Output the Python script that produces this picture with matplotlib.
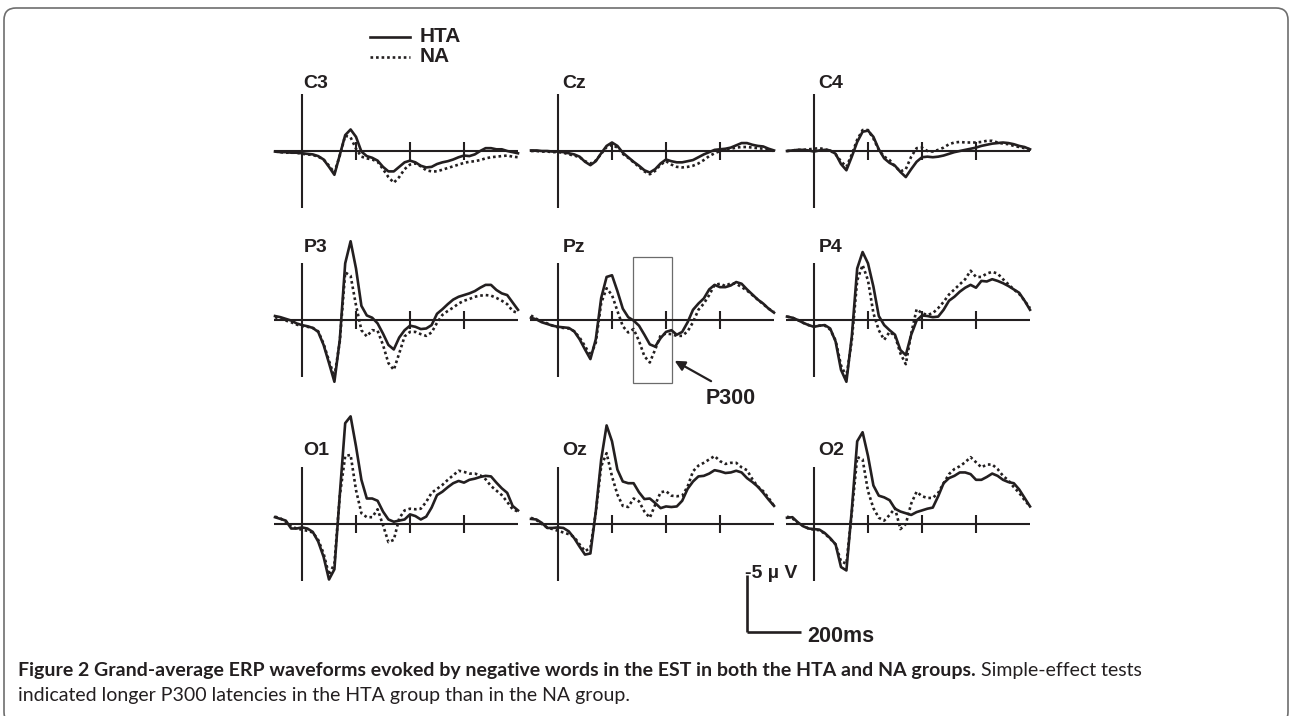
import matplotlib.pyplot as plt
from matplotlib.patches import Rectangle, FancyBboxPatch
from matplotlib.transforms import IdentityTransform

# sample times in ms, shared by every waveform
times = [-100, -80, -60, -40, -20, 0, 20, 40, 60, 80,
         100, 120, 140, 160, 180, 200, 220, 240, 260, 280,
         300, 320, 340, 360, 380, 400, 420, 440, 460, 480,
         500, 520, 540, 560, 580, 600, 620, 640, 660, 680,
         700, 720, 740, 760, 780, 800]

# amplitudes in microvolts (negative is plotted upward)
c3_hta = [0.05, 0.1, 0.1, 0.15, 0.15, 0.2, 0.25, 0.3, 0.45, 0.75,
          1.4, 2.1, 0.35, -1.4, -1.9, -1.25, 0.05, 0.45, 0.6, 0.85,
          1.4, 1.8, 1.8, 1.4, 1.0, 0.85, 1.0, 1.3, 1.45, 1.4,
          1.15, 1.0, 0.9, 0.75, 0.55, 0.4, 0.45, 0.3, 0.0, -0.25,
          -0.25, -0.15, -0.15, 0.0, 0.1, 0.2]
c3_na = [0.05, 0.1, 0.15, 0.15, 0.15, 0.25, 0.3, 0.35, 0.5, 0.75,
         1.3, 1.9, 0.4, -1.35, -1.2, -0.2, 0.5, 0.65, 0.75, 0.95,
         1.6, 2.3, 2.8, 2.3, 1.6, 1.2, 1.1, 1.35, 1.7, 1.8,
         1.8, 1.65, 1.5, 1.35, 1.2, 1.05, 0.95, 0.9, 0.8, 0.65,
         0.55, 0.5, 0.45, 0.4, 0.5, 0.55]
cz_hta = [-0.05, -0.05, 0, 0, 0.05, 0.05, 0.1, 0.2, 0.3, 0.5,
          0.95, 1.25, 0.9, 0.2, -0.45, -0.75, -0.45, 0.15, 0.55, 0.95,
          1.3, 1.7, 1.9, 1.6, 1.1, 0.75, 0.9, 1.0, 1.0, 0.9,
          0.8, 0.55, 0.3, 0.1, -0.1, -0.15, -0.2, -0.3, -0.5, -0.7,
          -0.7, -0.55, -0.45, -0.4, -0.2, -0.05]
cz_na = [0, 0, 0.05, 0.05, 0.1, 0.1, 0.15, 0.3, 0.4, 0.55,
         0.9, 1.1, 0.85, 0.25, -0.35, -0.55, -0.3, 0.25, 0.6, 1.0,
         1.4, 1.8, 2.05, 1.75, 1.2, 0.9, 1.2, 1.4, 1.45, 1.4,
         1.3, 1.1, 0.8, 0.45, 0.2, 0.0, -0.15, -0.2, -0.3, -0.35,
         -0.35, -0.3, -0.25, -0.2, -0.1, 0.0]
c4_hta = [0, -0.05, -0.1, -0.1, -0.05, 0.05, -0.05, -0.1, -0.05, 0.25,
          1.15, 1.7, 0.5, -0.8, -1.7, -1.8, -1.25, -0.15, 0.65, 1.05,
          1.3, 1.85, 2.3, 1.6, 0.95, 0.55, 0.5, 0.55, 0.5, 0.4,
          0.25, 0.1, 0, -0.1, -0.2, -0.3, -0.45, -0.55, -0.65, -0.7,
          -0.75, -0.7, -0.6, -0.45, -0.35, -0.15]
c4_na = [0, -0.05, -0.1, -0.1, -0.15, -0.2, -0.25, -0.15, -0.05, 0.3,
         0.9, 1.4, 0.3, -1.0, -1.85, -1.85, -1.1, -0.1, 0.5, 0.8,
         1.35, 1.8, 1.6, 0.5, -0.25, -0.3, 0.0, 0.05, -0.1, -0.3,
         -0.6, -0.75, -0.8, -0.75, -0.75, -0.75, -0.8, -0.9, -0.9, -0.75,
         -0.65, -0.6, -0.45, -0.35, -0.25, -0.15]
p3_hta = [-0.35, -0.25, -0.1, 0.05, 0.3, 0.45, 0.55, 0.7, 1.05, 2.2,
          3.8, 5.45, 1.75, -5.0, -6.95, -4.55, -1.25, -0.4, -0.2, 0.3,
          1.2, 2.2, 2.6, 1.55, 0.9, 0.5, 0.6, 0.8, 0.75, 0.45,
          -0.55, -0.95, -1.4, -1.8, -2.05, -2.2, -2.35, -2.55, -2.85, -3.1,
          -3.1, -2.65, -2.35, -2.2, -1.55, -0.9]
p3_na = [-0.25, -0.1, 0.05, 0.2, 0.4, 0.55, 0.6, 0.7, 1.0, 2.1,
         3.6, 5.0, 1.9, -4.2, -3.9, -1.3, 0.9, 1.45, 0.9, 0.95,
         2.2, 3.8, 4.4, 2.95, 1.45, 1.05, 1.05, 1.25, 1.4, 1.1,
         0.25, -0.45, -0.8, -1.1, -1.45, -1.7, -1.85, -2.05, -2.15, -2.2,
         -2.15, -1.95, -1.7, -1.4, -0.8, -0.6]
pz_hta = [-0.2, -0.05, 0.2, 0.35, 0.5, 0.6, 0.65, 0.7, 1.0, 1.7,
          2.6, 3.45, 1.7, -1.95, -3.8, -3.95, -2.55, -1.0, -0.25, 0.05,
          0.5, 1.3, 2.15, 2.35, 1.6, 1.05, 0.9, 1.3, 1.05, 0.2,
          -0.9, -1.45, -1.9, -2.7, -3.1, -2.9, -2.9, -3.05, -3.35, -3.2,
          -2.7, -2.25, -1.8, -1.45, -1.0, -0.65]
pz_na = [-0.4, -0.1, 0.1, 0.3, 0.5, 0.65, 0.7, 0.75, 1.0, 1.55,
         2.3, 3.15, 2.0, -1.5, -2.8, -2.2, -0.8, 0.55, 1.1, 0.8,
         1.85, 3.2, 3.75, 2.6, 1.35, 1.2, 1.25, 1.4, 1.4, 1.0,
         0.2, -0.9, -1.45, -2.2, -3.1, -3.2, -3.0, -3.25, -3.2, -2.9,
         -2.6, -2.2, -1.8, -1.4, -1.0, -0.7]
p4_hta = [-0.3, -0.2, 0, 0.25, 0.45, 0.6, 0.5, 0.45, 0.75, 1.9,
          4.4, 5.45, 1.45, -4.55, -6.0, -5.0, -2.95, -0.35, 0.45, 0.9,
          1.3, 2.65, 3.1, 1.3, 0.05, -0.4, -0.35, -0.25, -0.3, -0.9,
          -1.7, -2.05, -2.5, -2.85, -3.1, -2.85, -3.45, -3.4, -3.6, -3.45,
          -3.25, -3.0, -2.7, -2.4, -1.7, -0.9]
p4_na = [-0.3, -0.2, 0, 0.25, 0.45, 0.55, 0.5, 0.5, 0.85, 1.8,
         4.0, 5.0, 1.8, -3.5, -4.85, -3.5, -0.6, 0.9, 1.75, 1.05,
         1.4, 2.95, 3.9, 1.2, -0.95, -0.6, -0.45, -0.6, -1.05, -1.6,
         -2.25, -2.7, -3.15, -3.6, -4.35, -3.8, -3.8, -4.1, -4.25, -4.1,
         -3.6, -3.15, -2.7, -2.3, -1.7, -1.05]
o1_hta = [-0.6, -0.45, -0.3, 0.4, 0.4, 0.3, 0.4, 0.7, 1.55, 2.9,
          4.9, 4.0, -2.6, -8.9, -9.5, -6.85, -3.9, -2.25, -2.25, -2.05,
          -1.1, -0.4, -0.2, -0.3, -0.4, -0.85, -0.7, -0.4, -0.65, -1.45,
          -2.55, -2.85, -3.25, -3.6, -3.8, -3.65, -3.9, -4.0, -4.15, -4.25,
          -4.2, -3.65, -3.15, -2.75, -1.6, -1.2]
o1_na = [-0.65, -0.5, -0.2, 0.2, 0.4, 0.5, 0.6, 0.75, 1.4, 2.6,
         4.5, 3.5, -2.5, -6.0, -6.1, -3.0, -0.95, -0.6, -0.6, -1.3,
         0.1, 1.6, 1.4, -0.5, -1.2, -1.35, -1.3, -1.35, -1.95, -2.75,
         -3.1, -3.45, -3.9, -4.3, -4.7, -4.6, -4.45, -4.45, -4.3, -3.95,
         -3.35, -2.95, -2.55, -1.95, -1.3, -1.1]
oz_hta = [-0.45, -0.4, -0.1, 0.35, 0.35, 0.3, 0.35, 0.65, 1.25, 2.0,
          2.7, 2.6, -1.1, -5.7, -8.7, -7.3, -4.8, -3.75, -3.6, -3.6,
          -2.8, -2.2, -2.25, -1.85, -1.4, -1.55, -1.5, -1.55, -2.05, -3.1,
          -3.75, -4.2, -4.25, -4.45, -4.75, -4.65, -4.5, -4.55, -4.7, -4.55,
          -4.05, -3.7, -3.3, -2.75, -2.15, -1.6]
oz_na = [-0.55, -0.35, 0.0, 0.3, 0.45, 0.6, 0.75, 0.9, 1.15, 1.8,
         2.4, 2.1, -1.0, -5.1, -6.25, -4.2, -2.6, -1.6, -1.5, -2.25,
         -2.0, -1.1, -0.55, -1.7, -2.8, -2.9, -2.5, -2.45, -2.5, -3.3,
         -4.65, -5.15, -5.4, -5.7, -6.0, -5.55, -5.3, -5.4, -5.4, -5.0,
         -4.75, -3.95, -3.3, -2.9, -2.3, -1.6]
o2_hta = [-0.55, -0.6, -0.15, 0.2, 0.4, 0.45, 0.5, 0.8, 1.25, 1.8,
          3.8, 4.1, -1.25, -7.3, -8.1, -6.0, -3.4, -2.5, -2.35, -2.1,
          -1.35, -1.1, -0.95, -0.8, -1.05, -1.2, -1.35, -1.45, -2.45, -3.6,
          -4.05, -4.25, -4.55, -4.55, -4.4, -3.9, -3.9, -4.15, -4.45, -4.25,
          -3.9, -3.7, -3.6, -3.05, -2.3, -1.55]
o2_na = [-0.65, -0.5, -0.1, 0.15, 0.4, 0.5, 0.55, 0.85, 1.3, 1.8,
         3.3, 3.5, -1.0, -5.9, -5.7, -2.9, -1.4, -0.55, -0.3, -0.8,
         -1.4, 0.45, 0.0, -1.8, -2.85, -2.45, -2.3, -2.3, -2.75, -3.6,
         -4.4, -4.85, -5.1, -5.45, -5.9, -5.45, -5.0, -5.25, -5.25, -4.85,
         -4.25, -3.85, -3.25, -2.75, -2.1, -1.55]

electrodes = ['C3', 'Cz', 'C4', 'P3', 'Pz', 'P4', 'O1', 'Oz', 'O2']
hta_waves = [c3_hta, cz_hta, c4_hta, p3_hta, pz_hta, p4_hta, o1_hta, oz_hta, o2_hta]
na_waves = [c3_na, cz_na, c4_na, p3_na, pz_na, p4_na, o1_na, oz_na, o2_na]
tick_ms = [200, 400, 600]
groups = ['HTA', 'NA']

W, H = 1292, 716
INK = '#231f20'
LABEL_FONT = 'Liberation Sans'
PX_MS = 54 / 200      # pixels per ms
PX_UV = 11.33         # pixels per microvolt
XLIM = (-120, 820)
YTOP, YBOT = -10.5, 6.0
DOTS = (0, (1, 1.1))

fig = plt.figure(figsize=(W / 100, H / 100), dpi=100)


def fx(px):
    return px / W


def fy(py):
    return 1 - py / H


def panel_axes(x0, yb):
    # axes whose data origin (0 ms, 0 uV) sits at pixel (x0, yb)
    left = x0 + XLIM[0] * PX_MS
    width = (XLIM[1] - XLIM[0]) * PX_MS
    top = yb + YTOP * PX_UV
    bottom = yb + YBOT * PX_UV
    ax = fig.add_axes([fx(left), fy(bottom), width / W, (bottom - top) / H])
    ax.set_xlim(*XLIM)
    ax.set_ylim(YBOT, YTOP)
    ax.axis('off')
    ax.patch.set_alpha(0)
    return ax


col_x = [302, 558, 814]
row_y = [151, 320, 524]
label_dy = [-5.6, -6.0, -6.1]

axes = []
for i, name in enumerate(electrodes):
    r, c = divmod(i, 3)
    ax = panel_axes(col_x[c], row_y[r])
    axes.append(ax)
    kw = dict(color=INK, lw=1.5, solid_capstyle='butt', clip_on=False)
    ax.plot([-105, 800], [0, 0], **kw)
    ax.plot([0, 0], [-5, 5], **kw)
    for t in tick_ms:
        ax.plot([t, t], [-0.8, 0.8], **kw)
    ax.plot(times, na_waves[i], color=INK, lw=1.9, linestyle=DOTS,
            dash_capstyle='butt', clip_on=False)
    ax.plot(times, hta_waves[i], color=INK, lw=1.9, clip_on=False)
    ax.text(6 if c == 0 else 16, label_dy[r], name, fontsize=14, fontweight='bold',
            family=LABEL_FONT, color=INK, ha='left', va='baseline')

# P300 window on Pz
pz = axes[4]
pz.add_patch(Rectangle((278, -5.56), 144, 11.12, fill=False, edgecolor='#6b6b6b',
                       lw=0.9, clip_on=False))
pz.annotate('', xy=(432, 3.6), xytext=(567, 5.4),
            arrowprops=dict(arrowstyle='-|>', color=INK, lw=1.6, mutation_scale=15,
                            shrinkA=0, shrinkB=0))
pz.text(641, 6.9, 'P300', fontsize=15.5, fontweight='bold', family=LABEL_FONT,
        color=INK, ha='center', va='center')

# legend
fig.add_artist(plt.Line2D([fx(370), fx(410)], [fy(37), fy(37)], color=INK, lw=1.9))
fig.add_artist(plt.Line2D([fx(370), fx(410)], [fy(57), fy(57)], color=INK, lw=1.9,
                          linestyle=DOTS))
fig.text(fx(420), fy(37), groups[0], fontsize=15, fontweight='bold', family=LABEL_FONT,
         color=INK, va='center')
fig.text(fx(420), fy(57), groups[1], fontsize=15, fontweight='bold', family=LABEL_FONT,
         color=INK, va='center')

# scale bar: 5 uV (negative up) and 200 ms
sb = panel_axes(747, 632)
sb.plot([0, 0], [0, -5], color=INK, lw=1.9, solid_capstyle='butt', clip_on=False)
sb.plot([0, 200], [0, 0], color=INK, lw=1.9, solid_capstyle='butt', clip_on=False)
sb.text(-6, -4.75, '-5 \u00b5 V', fontsize=14, fontweight='bold', family=LABEL_FONT,
        color=INK, ha='left', va='baseline')
sb.text(222, 0.9, '200ms', fontsize=15.5, fontweight='bold', family=LABEL_FONT,
        color=INK, ha='left', va='baseline')

# caption
cap_font = 'Lato'
cap_size = 14
t1 = fig.text(fx(18), fy(676), 'Figure 2 Grand-average ERP waveforms evoked by negative words '
              'in the EST in both the HTA and NA groups.', fontsize=cap_size, fontweight='bold',
              family=cap_font, color=INK, va='baseline')
fig.canvas.draw()
bb = t1.get_window_extent()
fig.text((bb.x1 + 5) / W, fy(676), 'Simple-effect tests', fontsize=cap_size, family=cap_font,
         color=INK, va='baseline')
fig.text(fx(18), fy(701), 'indicated longer P300 latencies in the HTA group than in the NA group.',
         fontsize=cap_size, family=cap_font, color=INK, va='baseline')

# rounded frame around the whole figure
frame = FancyBboxPatch((4, -8), 1284, 716, boxstyle='round,pad=0,rounding_size=12',
                       transform=IdentityTransform(), fill=False, edgecolor='#6e6e6e', lw=1.2)
fig.add_artist(frame)

fig.savefig('out.png', dpi=100)
